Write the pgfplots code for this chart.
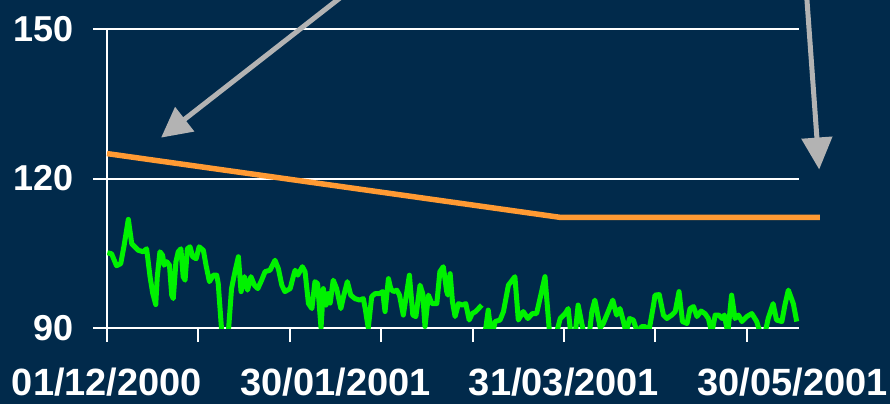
\documentclass[border=0pt]{standalone}
\usepackage{fontspec}
\setmainfont{Liberation Sans}
\usepackage{pgfplots}
\pgfplotsset{compat=1.18}
\usepackage{pgfplotstable}
\usetikzlibrary{arrows.meta}
\definecolor{navy}{HTML}{012A4B}
\definecolor{grn}{HTML}{00F200}
\definecolor{org}{HTML}{FF9A33}
\definecolor{arrowgray}{HTML}{B3B3B3}

% day = days since 01/12/2000, val = index value
\pgfplotstableread{
day val
0.1 105.1
1.2 104.9
2.5 102.5
3.6 102.9
4.5 106.6
5.6 111.8
6.5 106.9
8.2 105.6
9.5 105.3
10.4 105.9
11.3 100.3
12.0 97.0
12.8 94.7
13.2 100.3
13.9 105.3
14.6 104.6
15.0 102.6
15.7 103.3
16.4 102.6
17.0 96.6
17.4 95.9
18.1 103.3
18.7 105.3
19.4 105.9
20.0 100.3
20.5 99.6
21.1 105.9
21.8 106.3
22.5 104.3
23.4 103.9
24.2 106.3
25.3 105.6
26.0 102.6
26.9 99.3
27.9 100.6
28.8 100.6
29.2 99.0
30.1 89.5
31.0 86.0
31.9 89.5
32.7 97.9
33.6 101.3
34.5 104.3
35.2 97.3
36.1 100.3
36.9 97.6
37.8 100.3
38.7 98.6
39.6 97.9
40.6 99.6
41.5 101.3
42.8 101.6
44.1 103.6
45.0 101.9
45.9 98.6
46.7 97.3
48.1 97.9
48.9 100.3
49.4 101.6
50.1 100.6
51.3 102.3
52.0 101.3
52.9 94.9
53.8 93.9
54.6 99.3
55.3 98.9
56.2 90.0
56.8 97.9
57.5 94.6
58.1 96.9
58.6 95.0
59.4 99.6
60.3 97.9
61.4 93.9
62.2 96.6
63.1 99.3
64.0 96.6
65.1 95.9
66.3 95.6
67.3 95.9
67.8 93.9
68.6 90.0
69.5 96.3
70.4 96.9
71.5 96.9
72.4 97.3
73.0 93.3
73.9 99.9
74.5 97.9
75.2 97.3
76.1 97.6
76.8 96.6
77.8 92.6
79.4 100.6
80.3 92.6
81.1 92.3
82.2 98.6
82.9 96.9
83.5 90.3
84.4 96.6
85.3 94.9
86.6 94.9
87.4 101.3
88.3 102.3
89.2 97.3
89.5 96.6
90.1 100.9
90.7 95.3
91.4 92.3
92.3 94.9
93.3 94.6
94.2 94.9
95.1 91.6
95.9 92.9
96.8 93.3
98.4 94.6
98.8 nan
99.1 88.0
100.1 93.6
101.0 88.0
101.9 91.3
103.2 91.6
104.1 93.3
105.4 98.6
107.1 100.3
108.0 91.6
109.3 93.3
110.5 91.9
111.7 92.9
112.8 92.9
115.0 100.3
116.3 88.0
117.7 88.0
119.0 91.9
120.3 92.9
121.1 93.9
121.8 88.5
122.9 88.5
123.7 94.6
125.3 88.5
126.6 88.5
127.3 93.3
128.1 95.6
129.5 90.0
130.3 90.9
131.6 93.3
132.8 95.6
133.8 92.6
134.7 93.9
135.6 91.3
136.3 89.0
137.2 91.9
138.2 91.6
139.3 89.0
140.4 90.3
141.3 90.3
142.2 89.0
143.5 94.6
143.9 96.6
145.0 96.7
146.1 92.6
147.0 91.9
148.3 92.6
149.2 93.3
150.2 97.3
151.1 91.3
152.3 90.9
153.1 93.9
154.0 94.3
154.9 92.3
156.0 93.4
157.0 92.9
157.9 91.9
158.8 89.0
159.7 92.6
160.6 92.6
161.5 91.9
162.1 92.6
163.0 89.0
164.0 96.6
164.9 91.9
165.8 92.6
166.7 91.3
168.0 92.3
169.3 92.9
170.6 91.3
171.5 89.0
172.8 89.0
173.6 91.9
174.9 94.9
175.8 91.6
177.2 91.3
178.0 94.6
178.9 97.6
180.2 94.9
181.1 91.3
}\greentab

\begin{document}
\begin{tikzpicture}[x=1pt,y=1pt]
\fill[navy] (0,0) rectangle (890,404);
\useasboundingbox (0,0) rectangle (890,404);
\clip (0,0) rectangle (890,404);
\begin{axis}[
    at={(107pt,76pt)}, anchor=south west, scale only axis,
    width=692pt, height=299pt,
    xmin=0, xmax=181.7, ymin=90, ymax=150,
    axis lines=left, axis line style={-, white, line width=2pt},
    ytick={90,120,150}, ymajorgrids, grid style={white, line width=2pt},
    xtick={0,24,...,168}, xticklabels={},
    tick align=outside, major tick length=14pt, tick style={white, line width=2pt},
    yticklabel style={font=\fontsize{36}{40}\selectfont\bfseries, text=white,
        xshift=-16pt, /pgf/number format/assume math mode=true},
    extra x ticks={0,60,120,180},
    extra x tick labels={01/12/2000,30/01/2001,31/03/2001,30/05/2001},
    extra x tick style={major tick length=0pt, grid=none,
        xticklabel style={font=\fontsize{38}{42}\selectfont\bfseries, text=white, yshift=-36pt}},
    unbounded coords=jump]
  \addplot[grn, line width=5pt, line join=round] table[x=day, y=val] {\greentab};
\end{axis}
\begin{axis}[
    at={(107pt,76pt)}, anchor=south west, scale only axis,
    width=692pt, height=299pt,
    xmin=0, xmax=181.7, ymin=90, ymax=150, hide axis, clip=false]
  \addplot[org, line width=5.5pt, line cap=butt, line join=round] coordinates {(0,125) (119,112.2) (187.2,112.2)};
  \draw[arrowgray, line width=5pt, -{Triangle[length=30pt,width=30pt]}] (axis cs:63.8,157.8) -- (axis cs:14.2,128.2);
  \draw[arrowgray, line width=5pt, -{Triangle[length=32pt,width=30pt]}] (axis cs:183.6,157.8) -- (axis cs:187.0,121.8);
\end{axis}
\end{tikzpicture}
\end{document}
